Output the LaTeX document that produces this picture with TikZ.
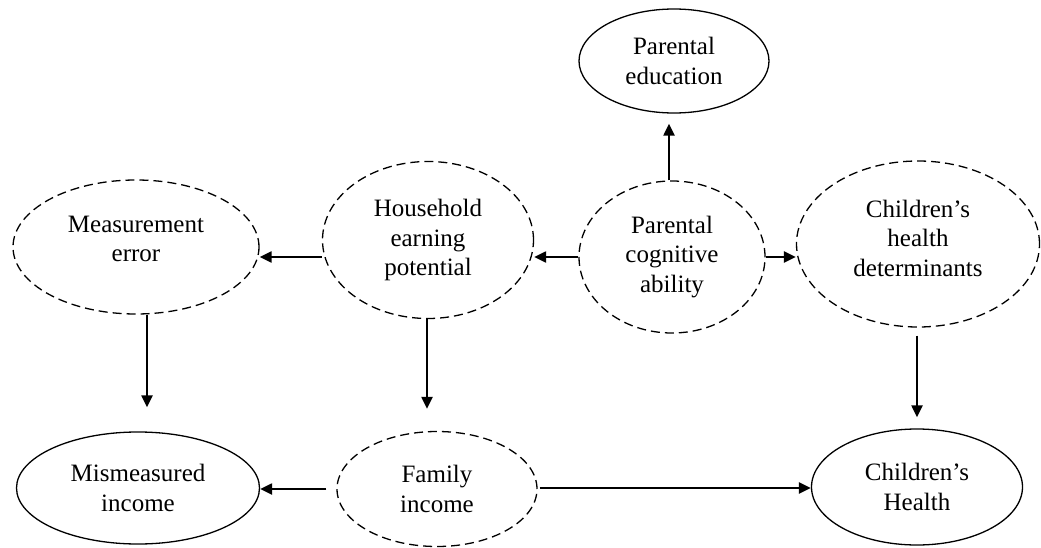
\documentclass[tikz,border=0pt]{standalone}
\usepackage{fontspec}
\setmainfont{Liberation Serif}
\usetikzlibrary{shapes.geometric,arrows.meta}
\begin{document}
\begin{tikzpicture}[x=1pt,y=-1pt,
  var/.style={ellipse, draw, line width=1.3pt, inner sep=0pt, align=center,
    font=\fontsize{25pt}{29.5pt}\selectfont},
  latent/.style={var, dash pattern=on 9pt off 5pt},
  arr/.style={-{Triangle[length=12pt,width=11pt]}, line width=2.2pt}]
\useasboundingbox (0,0) rectangle (1041,548);

% variables
\node[var, minimum width=190pt, minimum height=104pt] (pe) at (674,61) {Parental\\education};
\node[latent, minimum width=246pt, minimum height=134pt, text depth=16pt] (me) at (136,247) {Measurement\\error};
\node[latent, minimum width=211pt, minimum height=157pt] (hh) at (428,240) {Household\\earning\\potential};
\node[latent, minimum width=186pt, minimum height=152pt] (cog) at (672,257) {Parental\\cognitive\\ability};
\node[latent, minimum width=243pt, minimum height=166pt, text depth=12pt] (chd) at (918,244) {Children’s\\health\\determinants};
\node[var, minimum width=243pt, minimum height=112pt] (mi) at (138,488) {Mismeasured\\income};
\node[latent, minimum width=200pt, minimum height=115pt] (fi) at (437,489) {Family\\income};
\node[var, minimum width=211pt, minimum height=116pt] (ch) at (917,487) {Children’s\\Health};

% causal links
\draw[arr, shorten >=10pt] (cog.north -| 669,0) -- (pe.south -| 669,0);
\draw[arr] (cog.west |- 0,257) -- (hh.east |- 0,257);
\draw[arr] (cog.east |- 0,257) -- (chd.west |- 0,257);
\draw[arr] (hh.west |- 0,257) -- (me.east |- 0,257);
\draw[arr, shorten >=24pt] (me.south -| 147,0) -- (mi.north -| 147,0);
\draw[arr, shorten >=22pt] (hh.south -| 427,0) -- (fi.north -| 427,0);
\draw[arr, shorten <=8pt, shorten >=11pt] (chd.south -| 917,0) -- (ch.north -| 917,0);
\draw[arr, shorten <=10pt] (fi.west |- 0,489) -- (mi.east |- 0,489);
\draw[arr, shorten <=2pt] (fi.east |- 0,488) -- (ch.west |- 0,488);
\end{tikzpicture}
\end{document}
